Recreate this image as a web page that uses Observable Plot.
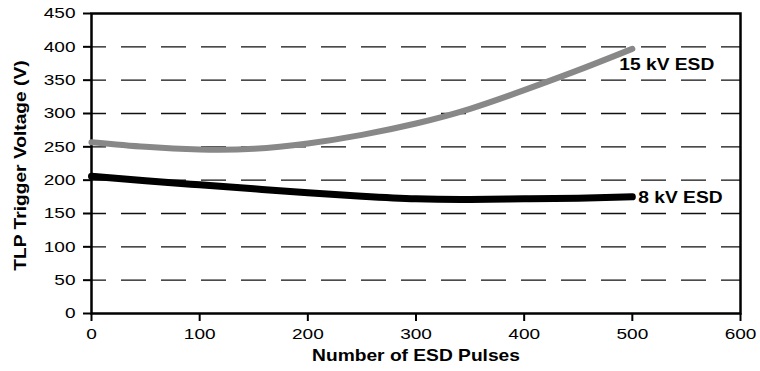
<!DOCTYPE html>
<html>
<head>
<meta charset="utf-8">
<script src="https://cdn.jsdelivr.net/npm/d3@7"></script>
<script src="https://cdn.jsdelivr.net/npm/@observablehq/plot@0.6"></script>
<style>
  html, body { margin: 0; padding: 0; background: #fff; }
  #chart svg { display: block; }
</style>
</head>
<body>
<div id="chart"></div>
<script>
const xTicks = [0, 100, 200, 300, 400, 500, 600];
const yTicks = [0, 50, 100, 150, 200, 250, 300, 350, 400, 450];
const gridValues = [50, 100, 150, 200, 250, 300, 350, 400];
const pulses = [0, 50, 100, 150, 200, 250, 300, 350, 400, 450, 500];
const v15kV = [257, 250, 246, 247, 255, 268, 285, 307, 335, 365, 397];
const v8kV = [206, 199, 193, 187, 181, 176, 172, 171, 172, 173, 175];
const seriesNames = ["15 kV ESD", "8 kV ESD"];
const xTitle = "Number of ESD Pulses";
const yTitle = "TLP Trigger Voltage (V)";

const rows15 = pulses.map((p, i) => ({x: p, y: v15kV[i]}));
const rows8 = pulses.map((p, i) => ({x: p, y: v8kV[i]}));
const last = pulses.length - 1;

const chart = Plot.plot({
  width: 760,
  height: 371,
  marginLeft: 91,
  marginRight: 20,
  marginTop: 13,
  marginBottom: 58,
  x: {domain: [0, 600]},
  y: {domain: [0, 450]},
  style: {fontFamily: "'Liberation Sans', Arial, sans-serif", fontSize: "15px", color: "#000", background: "#fff"},
  marks: [
    Plot.ruleY(gridValues, {stroke: "#111", strokeWidth: 1.3, strokeDasharray: "25,15", strokeDashoffset: 10}),
    Plot.frame({stroke: "#000", strokeWidth: 2.5}),
    Plot.axisY(yTicks, {tickSize: 8, tickPadding: 8, label: null, strokeWidth: 2, fontSize: 15}),
    Plot.axisX(xTicks, {tickSize: 8, tickPadding: 7, label: null, strokeWidth: 2, fontSize: 15}),
    Plot.line(rows15, {x: "x", y: "y", curve: "natural", stroke: "#888", strokeWidth: 6, strokeLinecap: "round"}),
    Plot.line(rows8, {x: "x", y: "y", curve: "natural", stroke: "#000", strokeWidth: 7, strokeLinecap: "round"}),
    Plot.text([rows15[last]], {x: "x", y: "y", text: () => seriesNames[0], textAnchor: "start", dx: -13, dy: 16, fontWeight: "bold", fontSize: 16}),
    Plot.text([rows8[last]], {x: "x", y: "y", text: () => seriesNames[1], textAnchor: "start", dx: 6, dy: 1, fontWeight: "bold", fontSize: 16}),
    Plot.text([xTitle], {frameAnchor: "bottom", textAnchor: "middle", dy: 47, fontWeight: "bold", fontSize: 16}),
    Plot.text([yTitle], {frameAnchor: "left", textAnchor: "middle", rotate: -90, dx: -71, dy: 2, fontWeight: "bold", fontSize: 16})
  ]
});

// widen glyphs along text direction (reference font is an extended Helvetica)
d3.select(chart).selectAll("text").each(function() {
  const el = this;
  const t = el.getAttribute("transform");
  if (!t) return;
  const fw = el.closest("[font-weight]");
  const bold = fw && fw.getAttribute("font-weight") === "bold";
  const s = bold ? 1.2 : 1.27;
  el.setAttribute("transform", `${t} scale(${s},1)`);
});

document.getElementById("chart").appendChild(chart);
</script>
</body>
</html>
